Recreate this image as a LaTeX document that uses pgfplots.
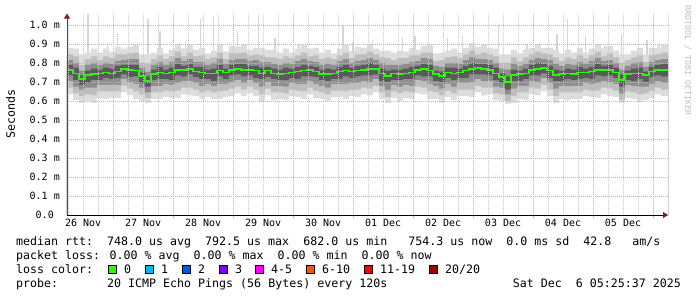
\documentclass[border=0pt]{standalone}
\usepackage{fontspec}
\setmainfont{DejaVu Sans Mono}
\usepackage{pgfplots}
\pgfplotsset{compat=1.18}
\usepackage{pgfplotstable}
\usetikzlibrary{arrows.meta}
\definecolor{mgrid}{HTML}{F0A0A0}
\definecolor{ngrid}{HTML}{CCCCCC}
\definecolor{arrowred}{HTML}{8B1A1A}
\definecolor{sa}{HTML}{DDDDDD}
\definecolor{sb}{HTML}{BEBEBE}
\definecolor{sc}{HTML}{8E8E8E}
\definecolor{sd}{HTML}{5A5A5A}
\definecolor{spk}{HTML}{D6D6D6}
\definecolor{lc0}{HTML}{26FF00}
\definecolor{lc1}{HTML}{00B8FF}
\definecolor{lc2}{HTML}{0059FF}
\definecolor{lc3}{HTML}{7E00FF}
\definecolor{lc4}{HTML}{FF00FF}
\definecolor{lc5}{HTML}{FF5500}
\definecolor{lc6}{HTML}{FF0000}
\definecolor{lc7}{HTML}{A10000}
\newcommand\fs{\fontsize{11.63pt}{14pt}\selectfont}
\newcommand\ft{\fontsize{10pt}{12pt}\selectfont}

\pgfplotstableread{
x m u1 u2 u3 u4 l4 l3 l2 l1
0.23 0.765 0.88 0.845 0.815 0.79 0.735 0.705 0.67 0.635
0.33 0.745 0.875 0.835 0.80 0.775 0.71 0.675 0.64 0.605
0.43 0.715 0.845 0.79 0.76 0.735 0.685 0.66 0.625 0.59
0.53 0.735 0.855 0.82 0.79 0.76 0.695 0.67 0.635 0.60
0.63 0.74 0.875 0.835 0.80 0.77 0.71 0.67 0.63 0.59
0.73 0.745 0.855 0.815 0.79 0.765 0.71 0.685 0.65 0.615
0.83 0.75 0.875 0.835 0.80 0.775 0.72 0.685 0.65 0.61
0.93 0.745 0.86 0.825 0.795 0.77 0.715 0.685 0.65 0.615
1.03 0.755 0.885 0.845 0.81 0.785 0.72 0.685 0.65 0.615
1.13 0.77 0.875 0.845 0.815 0.79 0.74 0.715 0.68 0.645
1.23 0.765 0.885 0.85 0.82 0.79 0.725 0.70 0.665 0.63
1.33 0.76 0.895 0.855 0.82 0.79 0.73 0.69 0.65 0.61
1.43 0.73 0.845 0.80 0.775 0.75 0.695 0.67 0.635 0.60
1.53 0.705 0.845 0.795 0.755 0.73 0.675 0.645 0.615 0.59
1.63 0.74 0.855 0.82 0.79 0.765 0.71 0.68 0.645 0.61
1.73 0.75 0.88 0.84 0.805 0.78 0.715 0.68 0.645 0.61
1.83 0.745 0.85 0.82 0.79 0.765 0.715 0.69 0.655 0.62
1.93 0.75 0.87 0.835 0.805 0.775 0.71 0.685 0.65 0.615
2.03 0.765 0.90 0.86 0.825 0.795 0.735 0.695 0.655 0.615
2.13 0.765 0.875 0.835 0.81 0.785 0.73 0.705 0.67 0.635
2.23 0.77 0.895 0.855 0.82 0.795 0.74 0.705 0.67 0.63
2.33 0.755 0.87 0.835 0.805 0.78 0.725 0.695 0.66 0.625
2.43 0.75 0.88 0.84 0.805 0.78 0.715 0.68 0.645 0.61
2.53 0.745 0.85 0.82 0.79 0.765 0.715 0.69 0.655 0.62
2.63 0.745 0.865 0.83 0.80 0.77 0.705 0.68 0.645 0.61
2.73 0.76 0.895 0.855 0.82 0.79 0.73 0.69 0.65 0.61
2.83 0.75 0.86 0.82 0.795 0.77 0.715 0.69 0.655 0.62
2.93 0.765 0.89 0.85 0.815 0.79 0.735 0.70 0.665 0.625
3.03 0.77 0.885 0.85 0.82 0.795 0.74 0.71 0.675 0.64
3.13 0.765 0.895 0.855 0.82 0.795 0.73 0.695 0.66 0.625
3.23 0.765 0.87 0.84 0.81 0.785 0.735 0.71 0.675 0.64
3.33 0.76 0.88 0.845 0.815 0.785 0.72 0.695 0.66 0.625
3.43 0.745 0.88 0.84 0.805 0.775 0.715 0.675 0.635 0.595
3.53 0.76 0.87 0.83 0.805 0.78 0.725 0.70 0.665 0.63
3.63 0.745 0.87 0.83 0.795 0.77 0.715 0.68 0.645 0.605
3.73 0.74 0.855 0.82 0.79 0.765 0.71 0.68 0.645 0.61
3.83 0.745 0.875 0.835 0.80 0.775 0.71 0.675 0.64 0.605
3.93 0.75 0.855 0.825 0.795 0.77 0.72 0.695 0.66 0.625
4.03 0.755 0.875 0.84 0.81 0.78 0.715 0.69 0.655 0.62
4.13 0.76 0.895 0.855 0.82 0.79 0.73 0.69 0.65 0.61
4.23 0.765 0.875 0.835 0.81 0.785 0.73 0.705 0.67 0.635
4.33 0.755 0.88 0.84 0.805 0.78 0.725 0.69 0.655 0.615
4.43 0.74 0.855 0.82 0.79 0.765 0.71 0.68 0.645 0.61
4.53 0.74 0.87 0.83 0.795 0.77 0.705 0.67 0.635 0.60
4.63 0.745 0.85 0.82 0.79 0.765 0.715 0.69 0.655 0.62
4.73 0.755 0.875 0.84 0.81 0.78 0.715 0.69 0.655 0.62
4.83 0.76 0.895 0.855 0.82 0.79 0.73 0.69 0.65 0.61
4.93 0.755 0.865 0.825 0.80 0.775 0.72 0.695 0.66 0.625
5.03 0.76 0.885 0.845 0.81 0.785 0.73 0.695 0.66 0.62
5.13 0.765 0.88 0.845 0.815 0.79 0.735 0.705 0.67 0.635
5.23 0.77 0.90 0.86 0.825 0.80 0.735 0.70 0.665 0.63
5.33 0.77 0.875 0.845 0.815 0.79 0.74 0.715 0.68 0.645
5.43 0.745 0.865 0.83 0.80 0.77 0.705 0.68 0.645 0.61
5.53 0.73 0.865 0.825 0.79 0.76 0.70 0.66 0.62 0.59
5.63 0.745 0.855 0.815 0.79 0.765 0.71 0.685 0.65 0.615
5.73 0.74 0.865 0.825 0.79 0.765 0.71 0.675 0.64 0.60
5.83 0.745 0.86 0.825 0.795 0.77 0.715 0.685 0.65 0.615
5.93 0.75 0.88 0.84 0.805 0.78 0.715 0.68 0.645 0.61
6.03 0.765 0.87 0.84 0.81 0.785 0.735 0.71 0.675 0.64
6.13 0.77 0.89 0.855 0.825 0.795 0.73 0.705 0.67 0.635
6.23 0.76 0.895 0.855 0.82 0.79 0.73 0.69 0.65 0.61
6.33 0.74 0.85 0.81 0.785 0.76 0.705 0.68 0.645 0.61
6.43 0.73 0.855 0.815 0.78 0.755 0.70 0.665 0.63 0.59
6.53 0.75 0.865 0.83 0.80 0.775 0.72 0.69 0.655 0.62
6.63 0.745 0.875 0.835 0.80 0.775 0.71 0.675 0.64 0.605
6.73 0.75 0.855 0.825 0.795 0.77 0.72 0.695 0.66 0.625
6.83 0.76 0.88 0.845 0.815 0.785 0.72 0.695 0.66 0.625
6.93 0.77 0.905 0.865 0.83 0.80 0.74 0.70 0.66 0.62
7.03 0.775 0.885 0.845 0.82 0.795 0.74 0.715 0.68 0.645
7.13 0.77 0.895 0.855 0.82 0.795 0.74 0.705 0.67 0.63
7.23 0.765 0.88 0.845 0.815 0.79 0.735 0.705 0.67 0.635
7.33 0.745 0.875 0.835 0.80 0.775 0.71 0.675 0.64 0.605
7.43 0.725 0.845 0.80 0.77 0.745 0.695 0.67 0.635 0.60
7.53 0.70 0.845 0.80 0.765 0.73 0.66 0.635 0.60 0.585
7.63 0.735 0.87 0.83 0.795 0.765 0.705 0.665 0.625 0.59
7.73 0.74 0.85 0.81 0.785 0.76 0.705 0.68 0.645 0.61
7.83 0.745 0.87 0.83 0.795 0.77 0.715 0.68 0.645 0.605
7.93 0.765 0.88 0.845 0.815 0.79 0.735 0.705 0.67 0.635
8.03 0.77 0.90 0.86 0.825 0.80 0.735 0.70 0.665 0.63
8.13 0.775 0.88 0.85 0.82 0.795 0.745 0.72 0.685 0.65
8.23 0.76 0.88 0.845 0.815 0.785 0.72 0.695 0.66 0.625
8.33 0.735 0.87 0.83 0.795 0.765 0.705 0.665 0.625 0.59
8.43 0.74 0.85 0.81 0.785 0.76 0.705 0.68 0.645 0.61
8.53 0.745 0.87 0.83 0.795 0.77 0.715 0.68 0.645 0.605
8.63 0.74 0.855 0.82 0.79 0.765 0.71 0.68 0.645 0.61
8.73 0.75 0.88 0.84 0.805 0.78 0.715 0.68 0.645 0.61
8.83 0.75 0.855 0.825 0.795 0.77 0.72 0.695 0.66 0.625
8.93 0.755 0.875 0.84 0.81 0.78 0.715 0.69 0.655 0.62
9.03 0.765 0.90 0.86 0.825 0.795 0.735 0.695 0.655 0.615
9.13 0.765 0.875 0.835 0.81 0.785 0.73 0.705 0.67 0.635
9.23 0.765 0.89 0.85 0.815 0.79 0.735 0.70 0.665 0.625
9.33 0.75 0.865 0.83 0.80 0.775 0.72 0.69 0.655 0.62
9.43 0.71 0.845 0.80 0.765 0.74 0.675 0.64 0.605 0.59
9.53 0.74 0.845 0.815 0.785 0.76 0.71 0.685 0.65 0.615
9.63 0.745 0.865 0.83 0.80 0.77 0.705 0.68 0.645 0.61
9.73 0.745 0.88 0.84 0.805 0.775 0.715 0.675 0.635 0.595
9.83 0.735 0.845 0.805 0.78 0.755 0.70 0.675 0.64 0.605
9.93 0.755 0.88 0.84 0.805 0.78 0.725 0.69 0.655 0.615
10.03 0.765 0.88 0.845 0.815 0.79 0.735 0.705 0.67 0.635
10.13 0.765 0.895 0.855 0.82 0.795 0.73 0.695 0.66 0.625
10.25 0.76 0.865 0.835 0.805 0.78 0.73 0.705 0.67 0.635
}\smoke

\pgfplotstableread{
x y e
0.58 0.84 0.22
0.90 0.84 0.06
1.07 0.84 0.12
1.58 0.84 0.19
1.78 0.84 0.13
2.20 0.84 0.07
2.45 0.84 0.19
2.67 0.84 0.20
3.07 0.84 0.13
3.42 0.84 0.21
3.70 0.84 0.09
4.10 0.84 0.06
4.83 0.84 0.16
5.00 0.84 0.07
5.32 0.84 0.08
5.82 0.84 0.09
6.03 0.84 0.10
6.57 0.84 0.09
6.82 0.84 0.10
7.42 0.84 0.16
7.90 0.84 0.06
8.40 0.84 0.11
8.57 0.84 0.19
8.87 0.84 0.10
9.20 0.84 0.05
9.48 0.84 0.11
9.90 0.84 0.08
10.10 0.84 0.06
}\spikes

\begin{document}
\begin{tikzpicture}
\path[use as bounding box] (-67pt,-82pt) rectangle (630pt,215pt);
\begin{axis}[
  at={(0pt,0pt)}, anchor=south west,
  scale only axis, width=601pt, height=201.4pt,
  xmin=0.23, xmax=10.25, ymin=0, ymax=1.06,
  axis on top,
  axis x line=bottom, axis y line=left,
  x axis line style={draw=black, line width=0.8pt, -{Triangle[length=5pt,width=6pt,color=arrowred]}},
  y axis line style={draw=black!70, line width=0.8pt, -{Triangle[length=5pt,width=6pt,color=arrowred]}},
  xtick={1,2,3,4,5,6,7,8,9,10}, xticklabels={,,,,,,,,,},
  minor xtick={0.25,0.5,0.75,1.25,1.5,1.75,2.25,2.5,2.75,3.25,3.5,3.75,4.25,4.5,4.75,5.25,5.5,5.75,6.25,6.5,6.75,7.25,7.5,7.75,8.25,8.5,8.75,9.25,9.5,9.75,10.25},
  extra x ticks={0.5,1.5,2.5,3.5,4.5,5.5,6.5,7.5,8.5,9.5},
  extra x tick labels={26 Nov,27 Nov,28 Nov,29 Nov,30 Nov,01 Dec,02 Dec,03 Dec,04 Dec,05 Dec},
  extra x tick style={grid=none, major tick length=0pt},
  ytick={0,0.1,0.2,0.3,0.4,0.5,0.6,0.7,0.8,0.9,1.0},
  yticklabels={0.0~~,0.1 m,0.2 m,0.3 m,0.4 m,0.5 m,0.6 m,0.7 m,0.8 m,0.9 m,1.0 m},
  xmajorgrids, xminorgrids, ymajorgrids,
  major grid style={draw=mgrid, line width=0.8pt, dash pattern=on 1pt off 1pt},
  minor grid style={draw=ngrid, line width=0.8pt, dash pattern=on 1pt off 1pt},
  tick align=outside, major tick length=3pt, minor tick length=0pt,
  xtick style={draw=mgrid, line width=0.8pt},
  ytick style={draw=none},
  tick label style={font=\ft, text=black},
  xticklabel style={anchor=base, inner sep=0pt, yshift=-12pt},
  yticklabel style={anchor=east, inner sep=0pt, xshift=-4pt},
]
\addplot[forget plot, draw=none, mark=none, error bars/.cd, y dir=plus, y explicit,
  error mark=none, error bar style={draw=spk, line width=1.3pt}]
  table[x=x, y=y, y error=e]{\spikes};
\addplot[const plot, fill=sa, draw=none] table[x=x,y=u1]{\smoke} \closedcycle;
\addplot[const plot, fill=sb, draw=none] table[x=x,y=u2]{\smoke} \closedcycle;
\addplot[const plot, fill=sc, draw=none] table[x=x,y=u3]{\smoke} \closedcycle;
\addplot[const plot, fill=sd, draw=none] table[x=x,y=u4]{\smoke} \closedcycle;
\addplot[const plot, fill=sc, draw=none] table[x=x,y=l4]{\smoke} \closedcycle;
\addplot[const plot, fill=sb, draw=none] table[x=x,y=l3]{\smoke} \closedcycle;
\addplot[const plot, fill=sa, draw=none] table[x=x,y=l2]{\smoke} \closedcycle;
\addplot[const plot, fill=white, draw=none] table[x=x,y=l1]{\smoke} \closedcycle;
\addplot[const plot, draw=lc0, line width=1.8pt, mark=none] table[x=x,y=m]{\smoke};
\end{axis}
\node[anchor=base, rotate=90, inner sep=0pt, font=\fs] at (-52pt,100.7pt) {Seconds};
\node[anchor=base west, inner sep=0pt, font=\fs] at (-51pt,-30.5pt)
  {median rtt:~~748.0 us avg~~792.5 us max~~682.0 us min~~~754.3 us now~~0.0 ms sd~~42.8~~~am/s};
\node[anchor=base west, inner sep=0pt, font=\fs] at (-51pt,-44.5pt)
  {packet loss: 0.00 \% avg~~0.00 \% max~~0.00 \% min~~0.00 \% now};
\node[anchor=base west, inner sep=0pt, font=\fs] at (-51pt,-58.5pt) {loss color:};
\node[anchor=base west, inner sep=0pt, font=\fs] at (-51pt,-72.5pt)
  {probe:~~~~~~~20 ICMP Echo Pings (56 Bytes) every 120s};
\node[anchor=base east, inner sep=0pt, font=\fs] at (614pt,-72.5pt) {Sat Dec~~6 05:25:37 2025};
\draw[fill=lc0] (41.5pt,-58pt) rectangle ++(8pt,8pt);
\draw[fill=lc1] (78.5pt,-58pt) rectangle ++(8pt,8pt);
\draw[fill=lc2] (115.5pt,-58pt) rectangle ++(8pt,8pt);
\draw[fill=lc3] (152.5pt,-58pt) rectangle ++(8pt,8pt);
\draw[fill=lc4] (188.5pt,-58pt) rectangle ++(8pt,8pt);
\draw[fill=lc5] (239.5pt,-58pt) rectangle ++(8pt,8pt);
\draw[fill=lc6] (297.5pt,-58pt) rectangle ++(8pt,8pt);
\draw[fill=lc7] (362.5pt,-58pt) rectangle ++(8pt,8pt);
\node[anchor=base west, inner sep=0pt, font=\fs] at (57pt,-58.5pt) {0};
\node[anchor=base west, inner sep=0pt, font=\fs] at (94pt,-58.5pt) {1};
\node[anchor=base west, inner sep=0pt, font=\fs] at (131pt,-58.5pt) {2};
\node[anchor=base west, inner sep=0pt, font=\fs] at (168pt,-58.5pt) {3};
\node[anchor=base west, inner sep=0pt, font=\fs] at (204pt,-58.5pt) {4-5};
\node[anchor=base west, inner sep=0pt, font=\fs] at (255pt,-58.5pt) {6-10};
\node[anchor=base west, inner sep=0pt, font=\fs] at (313pt,-58.5pt) {11-19};
\node[anchor=base west, inner sep=0pt, font=\fs] at (378pt,-58.5pt) {20/20};
\node[anchor=base west, inner sep=0pt, rotate=-90, text=black!25, font=\fontsize{8.3pt}{10pt}\selectfont] at (618pt,210pt) {RRDTOOL / TOBI OETIKER};
\end{tikzpicture}
\end{document}
